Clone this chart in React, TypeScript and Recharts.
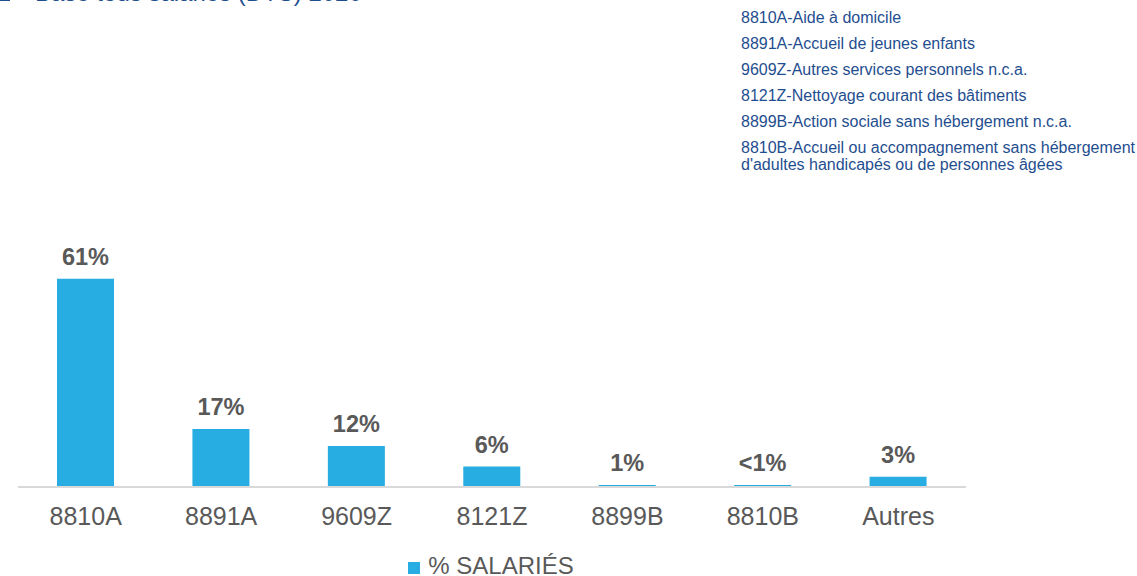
import React from "react";
import { BarChart, Bar, XAxis, YAxis, LabelList, Legend } from "recharts";

const categories = ["8810A", "8891A", "9609Z", "8121Z", "8899B", "8810B", "Autres"];
const shareValues = [61, 17, 12, 6, 0.6, 0.6, 3];
const shareLabels = ["61%", "17%", "12%", "6%", "1%", "<1%", "3%"];
const seriesName = "% SALARIÉS";
const titleText = "Base tous salariés (DTS) 2020";
const codeNotes = [
  ["8810A-Aide à domicile"],
  ["8891A-Accueil de jeunes enfants"],
  ["9609Z-Autres services personnels n.c.a."],
  ["8121Z-Nettoyage courant des bâtiments"],
  ["8899B-Action sociale sans hébergement n.c.a."],
  ["8810B-Accueil ou accompagnement sans hébergement", "d'adultes handicapés ou de personnes âgées"],
];

const data = categories.map((c, i) => ({ cat: c, value: shareValues[i], label: shareLabels[i] }));

const FONT = '"Liberation Sans", Arial, sans-serif';
const BAR = "#27ADE2";
const GREY = "#595959";
const NAVY = "#1F4E8F";

export default function App() {
  return (
    <div style={{ position: "absolute", left: 0, top: 0, width: 1137, height: 576, overflow: "hidden", fontFamily: FONT, background: "#fff" }}>
      <div style={{ position: "absolute", left: 0, top: -21, fontSize: 24, color: NAVY, whiteSpace: "nowrap", lineHeight: "normal" }}>
        <span style={{ display: "inline-block", width: 10, height: 10, background: NAVY, marginRight: 25 }} />
        {titleText}
      </div>
      <div style={{ position: "absolute", left: 741, top: 9, fontSize: 16, color: NAVY, whiteSpace: "nowrap" }}>
        {codeNotes.map((lines, i) => (
          <div key={i} style={{ marginBottom: 9 }}>
            {lines.map((l, j) => (
              <div key={j} style={{ lineHeight: "17px" }}>{l}</div>
            ))}
          </div>
        ))}
      </div>
      <div style={{ position: "absolute", left: 0, top: 0 }}>
        <BarChart width={1137} height={576} data={data} margin={{ top: 248, right: 171, left: 18, bottom: 59 }}>
          <XAxis
            dataKey="cat"
            axisLine={{ stroke: "#D9D9D9", strokeWidth: 2 }}
            tickLine={false}
            tickSize={0}
            tickMargin={20}
            tick={{ fill: GREY, fontSize: 25, fontFamily: FONT }}
            interval={0}
          />
          <YAxis hide domain={[0, 70]} />
          <Legend
            verticalAlign="middle"
            align="center"
            layout="horizontal"
            iconType="square"
            iconSize={12}
            wrapperStyle={{ top: 556, left: 22, width: 948, fontSize: 24, lineHeight: "20px", fontFamily: FONT }}
            formatter={(v) => <span style={{ color: GREY, marginLeft: 4 }}>{v}</span>}
          />
          <Bar dataKey="value" name={seriesName} fill={BAR} barSize={57} isAnimationActive={false}>
            <LabelList dataKey="label" position="top" offset={14} fill={GREY} fontSize={23.5} fontWeight="bold" fontFamily={FONT} />
          </Bar>
        </BarChart>
      </div>
    </div>
  );
}
